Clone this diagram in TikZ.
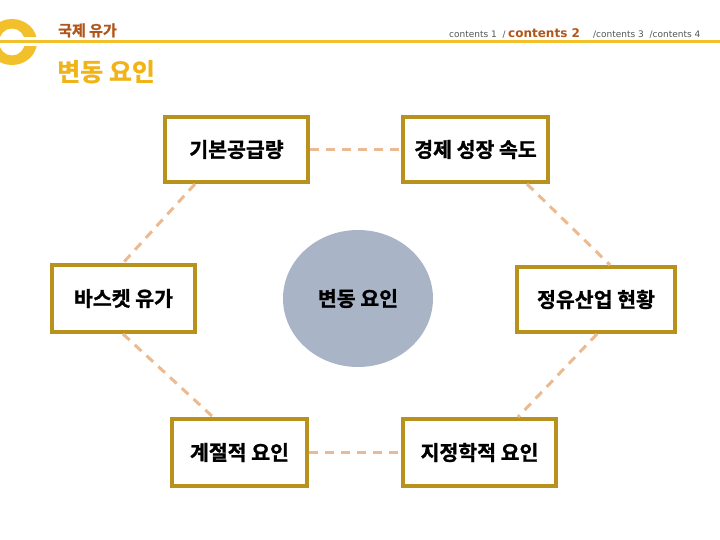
\documentclass[tikz,border=0pt]{standalone}
\usepackage{fontspec}
\usetikzlibrary{shapes.geometric}
\setmainfont{DejaVu Sans}
\newfontfamily\kr{Noto Sans CJK KR}[BoldFont=* Bold,BoldFeatures={FakeBold=1.2}]
\definecolor{boxgold}{HTML}{B8921C}
\definecolor{peach}{HTML}{EBBA90}
\definecolor{hdryel}{HTML}{F2C02A}
\definecolor{ttlyel}{HTML}{F0B418}
\definecolor{brn}{HTML}{B0561A}
\definecolor{circ}{HTML}{A9B4C7}
\definecolor{gry}{HTML}{555555}
\begin{document}
\begin{tikzpicture}[x=1pt,y=-1pt,
  kbox/.style={draw=boxgold,line width=4pt,fill=white,minimum height=65pt,inner sep=0pt,font=\kr\bfseries\fontsize{20.5}{21}\selectfont},
  conn/.style={draw=peach,line width=3pt,dash pattern=on 9pt off 7pt}]
\useasboundingbox (0,0) rectangle (720,540);
% logo
\fill[hdryel,even odd rule] (12,42) ellipse [x radius=25,y radius=23] (12,42) ellipse [x radius=13,y radius=13.5];
\draw[white,line width=9pt] (0,42) -- (40,42);
\draw[hdryel,line width=3pt] (0,42) -- (720,42);
\node[anchor=base west,inner sep=0pt,text=brn,font=\kr\bfseries\fontsize{15}{15}\selectfont] (t1) at (58,36) {국제 유가};
\node[anchor=base west,inner sep=0pt,text=ttlyel,font=\kr\bfseries\fontsize{25}{25}\selectfont] (t2) at (57,81) {변동 요인};
\node[anchor=base west,inner sep=0pt,text=gry,font=\fontsize{9}{9}\selectfont] (c1) at (449,38) {contents 1 \ /};
\node[anchor=base west,inner sep=0pt,text=brn,font=\bfseries\fontsize{12}{12}\selectfont] (c2) at (508,38) {contents 2};
\node[anchor=base west,inner sep=0pt,text=gry,font=\fontsize{9}{9}\selectfont] (c3) at (593,38) {/contents 3 \ /contents 4};
% boxes
\node[kbox,minimum width=143pt] (a) at (236.5,149.5) {기본공급량};
\node[kbox,minimum width=145pt] (b) at (475.5,149.5) {경제 성장 속도};
\node[kbox,minimum width=143pt,minimum height=67pt] (c) at (123.5,298.5) {바스켓 유가};
\node[kbox,minimum width=158pt] (d) at (596,299.5) {정유산업 현황};
\node[kbox,minimum width=135pt,minimum height=67pt] (e) at (239.5,452.5) {계절적 요인};
\node[kbox,minimum width=153pt,minimum height=67pt] (f) at (479.5,452.5) {지정학적 요인};
\node[ellipse,fill=circ,minimum width=150pt,minimum height=137pt,inner sep=0pt,font=\kr\bfseries\fontsize{20.5}{21}\selectfont] (m) at (358,298.5) {변동 요인};
% connectors
\draw[conn] (a.east) -- (b.west);
\draw[conn] (e.east) -- (f.west);
\draw[conn] ([xshift=-41.5pt]a.south) -- ([xshift=-0.5pt]c.north);
\draw[conn] ([xshift=51.5pt]b.south) -- ([xshift=14pt]d.north);
\draw[conn] ([xshift=-0.5pt]c.south) -- ([xshift=-26.5pt]e.north);
\draw[conn] ([xshift=1pt]d.south) -- ([xshift=38.5pt]f.north);
\end{tikzpicture}
\end{document}
